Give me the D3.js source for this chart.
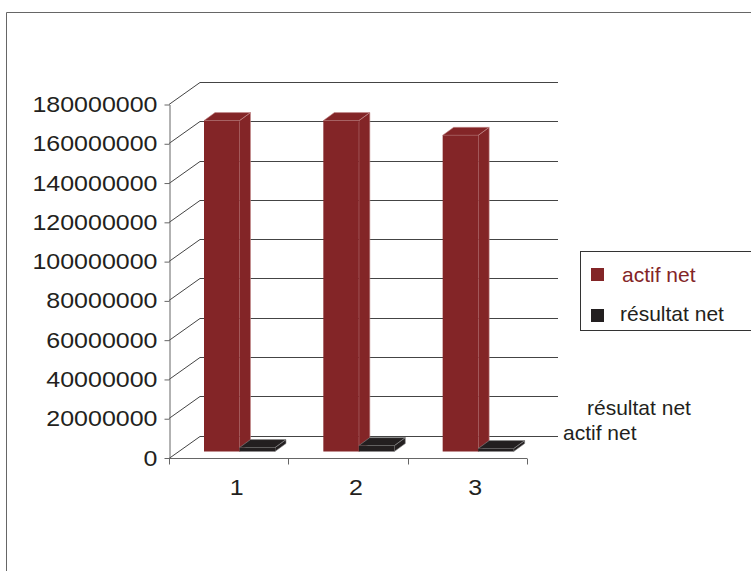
<!DOCTYPE html>
<html>
<head>
<meta charset="utf-8">
<script src="https://cdn.jsdelivr.net/npm/d3@7"></script>
<style>
body { margin: 0; background: #fff; }
svg { display: block; font-family: "Liberation Sans", Arial, sans-serif; }
</style>
</head>
<body>
<svg width="751" height="571"></svg>
<script>
// **** data ****
const categories = ['1', '2', '3'];
const seriesNames = ['actif net', 'résultat net'];
const actifNet = [168500000, 168500000, 161000000];
const resultatNet = [2000000, 3000000, 1500000];
const yTicks = [0, 20000000, 40000000, 60000000, 80000000, 100000000, 120000000, 140000000, 160000000, 180000000];
const seriesColors = ['#832527', '#231f20'];

// **** scales ****
const svg = d3.select('svg');
const wallDx = 31, wallDy = -22;     // depth of the floor / walls
const barDx = 8, barDy = -6;         // where the bars' front faces sit
const barDepthX = 11, barDepthY = -8;

const yScale = d3.scaleLinear().domain([0, 180000000]).range([457.5, 104]);
const xScale = d3.scaleBand().domain(categories).range([169, 527]);
const seriesScale = d3.scaleBand().domain(seriesNames).range([27, 98]);

// outer frame
svg.append('path')
    .attr('d', 'M6.5,571 L6.5,12.5 L760,12.5')
    .attr('fill', 'none')
    .attr('stroke', '#666');

// **** walls and gridlines ****
const grid = svg.append('g').attr('stroke', '#444').attr('fill', 'none');
yTicks.forEach((t) => {
    const yy = Math.round(yScale(t)) + 0.5;
    grid.append('line')
        .attr('x1', 169).attr('y1', yy)
        .attr('x2', 169 + wallDx).attr('y2', yy + wallDy);
    grid.append('line')
        .attr('x1', 169 + wallDx).attr('y1', yy + wallDy)
        .attr('x2', 527 + wallDx).attr('y2', yy + wallDy);
});

// floor front edge with category ticks
const floorY = Math.round(yScale(0)) + 0.5;
grid.append('line')
    .attr('x1', 169).attr('y1', floorY)
    .attr('x2', 527).attr('y2', floorY)
    .attr('stroke', '#666');
const bounds = categories.map((c) => xScale(c)).concat([xScale.range()[1]]);
bounds.forEach((b) => {
    grid.append('line')
        .attr('x1', Math.round(b) + 0.5).attr('y1', floorY)
        .attr('x2', Math.round(b) + 0.5).attr('y2', floorY + 6)
        .attr('stroke', '#666');
});

// y axis
const yAxis = svg.append('g')
    .attr('transform', 'translate(169.5,0.5)')
    .call(d3.axisLeft(yScale).tickValues(yTicks).tickSize(5).tickSizeOuter(0).tickPadding(7).tickFormat(d3.format('d')));
yAxis.select('.domain').attr('stroke', '#666');
yAxis.selectAll('.tick line').attr('stroke', '#666');
yAxis.selectAll('.tick text')
    .attr('font-size', 22)
    .attr('font-family', '"Liberation Sans", Arial, sans-serif')
    .attr('fill', '#231f20')
    .attr('textLength', (d) => String(d).length * 13.9)
    .attr('lengthAdjust', 'spacingAndGlyphs');

// category labels
svg.append('g').selectAll('text')
    .data(categories)
    .join('text')
    .attr('x', (d) => xScale(d) + xScale.bandwidth() / 2 + 8)
    .attr('y', 495)
    .attr('text-anchor', 'middle')
    .attr('font-size', 22)
    .attr('fill', '#231f20')
    .attr('textLength', 13.9)
    .attr('lengthAdjust', 'spacingAndGlyphs')
    .text((d) => d);

// **** bars ****
const barData = [];
categories.forEach((c, i) => {
    barData.push({ cat: c, s: seriesNames[0], v: actifNet[i], color: seriesColors[0], edge: '#c58d8d' });
    barData.push({ cat: c, s: seriesNames[1], v: resultatNet[i], color: seriesColors[1], edge: '#8a8a8a' });
});

barData.forEach((d) => {
    const x0 = xScale(d.cat) + barDx + seriesScale(d.s);
    const w = seriesScale.bandwidth();
    const yb = yScale(0) + barDy;
    const yt = yScale(d.v) + barDy;
    const g = svg.append('g')
        .attr('fill', d.color)
        .attr('stroke', d.edge)
        .attr('stroke-width', 0.6)
        .attr('stroke-linejoin', 'round');

    g.append('path').attr('d',
        `M${x0 + w},${yt} L${x0 + w + barDepthX},${yt + barDepthY} L${x0 + w + barDepthX},${yb + barDepthY} L${x0 + w},${yb} Z`);
    g.append('path').attr('d',
        `M${x0},${yt} L${x0 + barDepthX},${yt + barDepthY} L${x0 + w + barDepthX},${yt + barDepthY} L${x0 + w},${yt} Z`);
    g.append('rect')
        .attr('x', x0).attr('y', yt)
        .attr('width', w).attr('height', yb - yt)
        .attr('stroke', 'none');
});

// series (depth) labels
svg.append('text')
    .attr('x', 587).attr('y', 415)
    .attr('font-size', 21).attr('fill', '#231f20')
    .text(seriesNames[1]);
svg.append('text')
    .attr('x', 563).attr('y', 440)
    .attr('font-size', 21).attr('fill', '#231f20')
    .text(seriesNames[0]);

// **** legend ****
svg.append('rect')
    .attr('x', 580.5).attr('y', 251.5)
    .attr('width', 200).attr('height', 79)
    .attr('fill', 'none').attr('stroke', '#333');

const legendRows = [
    { name: seriesNames[0], color: seriesColors[0], y: 268, textX: 622, textY: 282, textColor: seriesColors[0] },
    { name: seriesNames[1], color: seriesColors[1], y: 309, textX: 620, textY: 321, textColor: '#231f20' }
];
legendRows.forEach((r) => {
    svg.append('rect')
        .attr('x', 591).attr('y', r.y)
        .attr('width', 13).attr('height', 13)
        .attr('fill', r.color);
    svg.append('text')
        .attr('x', r.textX).attr('y', r.textY)
        .attr('font-size', 21)
        .attr('fill', r.textColor)
        .text(r.name);
});
</script>
</body>
</html>
